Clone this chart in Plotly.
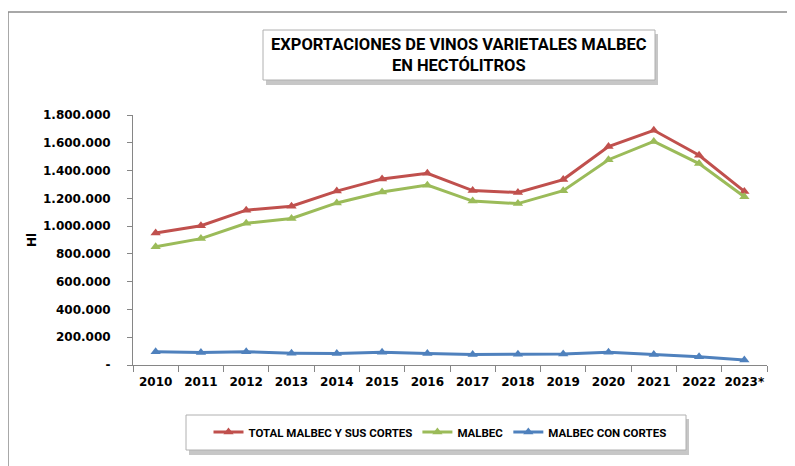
import plotly.graph_objects as go

years = ["2010", "2011", "2012", "2013", "2014", "2015", "2016",
         "2017", "2018", "2019", "2020", "2021", "2022", "2023*"]

total = [950000, 1003000, 1115000, 1143000, 1252000, 1340000, 1380000,
         1256000, 1242000, 1335000, 1573000, 1690000, 1510000, 1250000]
malbec = [852000, 910000, 1020000, 1055000, 1167000, 1245000, 1295000,
          1180000, 1162000, 1255000, 1478000, 1610000, 1450000, 1212000]
cortes = [96000, 90000, 95000, 85000, 82000, 92000, 82000,
          75000, 77000, 80000, 92000, 76000, 60000, 36000]

y_ticks = [0, 200000, 400000, 600000, 800000, 1000000, 1200000,
           1400000, 1600000, 1800000]
y_labels = ["-", "200.000", "400.000", "600.000", "800.000", "1.000.000",
            "1.200.000", "1.400.000", "1.600.000", "1.800.000"]

series = [
    ("TOTAL MALBEC Y SUS CORTES", total, "#C0504D"),
    ("MALBEC", malbec, "#9BBB59"),
    ("MALBEC CON CORTES", cortes, "#4F81BD"),
]

fig = go.Figure()
for name, vals, col in series:
    fig.add_trace(go.Scatter(
        x=years, y=vals, name=name, mode="lines+markers",
        line=dict(color=col, width=3),
        marker=dict(symbol="triangle-up", size=9, color=col),
    ))

# page has an 8px body margin; plot area on page: x 133..767, y 115..365
W, H = 634, 250


def px(x):
    return (x - 133) / W


def py(y):
    return (365 - y) / H


shapes = [
    # outer frame
    dict(type="rect", xref="paper", yref="paper", x0=px(8), x1=px(805),
         y0=py(480), y1=py(12), line=dict(color="#8c8c8c", width=1.5),
         fillcolor="rgba(0,0,0,0)"),
    # title box shadow + box
    dict(type="rect", xref="paper", yref="paper", x0=px(266), x1=px(658),
         y0=py(85), y1=py(34), line=dict(width=0),
         fillcolor="rgba(0,0,0,0.22)"),
    dict(type="rect", xref="paper", yref="paper", x0=px(263), x1=px(655),
         y0=py(80), y1=py(30), line=dict(color="#b0b0b0", width=1),
         fillcolor="white"),
    # legend box shadow + box
    dict(type="rect", xref="paper", yref="paper", x0=px(189), x1=px(689),
         y0=py(455), y1=py(419), line=dict(width=0),
         fillcolor="rgba(0,0,0,0.22)"),
    dict(type="rect", xref="paper", yref="paper", x0=px(186), x1=px(686),
         y0=py(450), y1=py(415), line=dict(color="#b0b0b0", width=1),
         fillcolor="white"),
]

fig.update_layout(
    width=787, height=458,
    margin=dict(l=125, r=28, t=107, b=101),
    paper_bgcolor="white", plot_bgcolor="white",
    font=dict(family="DejaVu Sans", size=12, color="black"),
    shapes=shapes,
    showlegend=True,
    legend=dict(
        orientation="h", x=px(440), y=py(432),
        xanchor="center", yanchor="middle",
        bgcolor="rgba(0,0,0,0)", borderwidth=0,
        font=dict(family="Roboto", size=11.5, weight="bold"),
        itemwidth=30, tracegroupgap=0,
    ),
    annotations=[
        dict(text="EXPORTACIONES DE VINOS VARIETALES MALBEC<br>EN HECTÓLITROS",
             xref="paper", yref="paper", x=px(459), y=py(55),
             xanchor="center", yanchor="middle",
             showarrow=False, align="center",
             font=dict(family="Roboto", size=16.5, weight="bold")),
        dict(text="Hl", xref="paper", yref="paper", x=px(32), y=py(240),
             xanchor="center", yanchor="middle",
             showarrow=False, textangle=-90,
             font=dict(family="DejaVu Sans", size=12, weight="bold")),
    ],
)

fig.update_xaxes(
    type="category", range=[-0.5, 13.5],
    showline=True, linecolor="#868686", linewidth=1,
    ticks="outside", tickson="boundaries", ticklen=6, tickcolor="#868686",
    showgrid=False, tickangle=0, automargin=False, ticklabelstandoff=6,
    tickfont=dict(family="DejaVu Sans", size=12, weight="bold"),
)
fig.update_yaxes(
    range=[0, 1800000], tickvals=y_ticks, ticktext=y_labels,
    showline=True, linecolor="#868686", linewidth=1,
    ticks="outside", ticklen=5, tickcolor="#868686",
    showgrid=False, zeroline=False, automargin=False, ticklabelstandoff=14,
    tickfont=dict(family="DejaVu Sans", size=12, weight="bold"),
)

fig.write_html("out.html")
